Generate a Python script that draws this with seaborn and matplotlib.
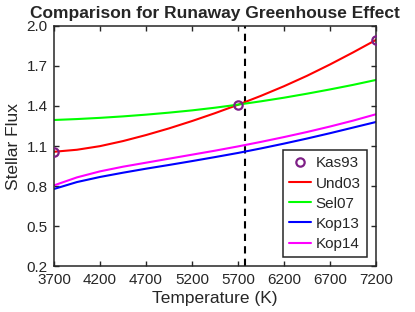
import numpy as np
import pandas as pd
import matplotlib
matplotlib.use('Agg')
import matplotlib.pyplot as plt
import seaborn as sns

# values (every 250 K)
temps = [3700, 3950, 4200, 4450, 4700, 4950, 5200, 5450, 5700,
         5950, 6200, 6450, 6700, 6950, 7200]
und03 = [1.057, 1.072, 1.099, 1.137, 1.182, 1.232, 1.287, 1.346, 1.409,
         1.476, 1.548, 1.626, 1.711, 1.801, 1.895]
sel07 = [1.295, 1.302, 1.311, 1.322, 1.335, 1.350, 1.367, 1.387, 1.410,
         1.435, 1.462, 1.492, 1.524, 1.558, 1.595]
kop13 = [0.778, 0.830, 0.868, 0.900, 0.930, 0.958, 0.987, 1.017, 1.048,
         1.082, 1.118, 1.156, 1.196, 1.238, 1.280]
kop14 = [0.805, 0.865, 0.910, 0.945, 0.975, 1.005, 1.035, 1.065, 1.097,
         1.131, 1.167, 1.205, 1.246, 1.290, 1.338]
kas93_t = [3700, 5700, 7200]
kas93_f = [1.057, 1.41, 1.895]
sun_temp = 5780

xticks = [3700, 4200, 4700, 5200, 5700, 6200, 6700, 7200]
yticks = [0.2, 0.5, 0.8, 1.1, 1.4, 1.7, 2.0]

sns.set_style('ticks')
plt.rcParams['font.family'] = ['Liberation Sans', 'DejaVu Sans']

fig = plt.figure(figsize=(4.15, 3.12), dpi=100)
ax = fig.add_axes([0.130, 0.147, 0.776, 0.770])

ax.axvline(sun_temp, color='black', linestyle=(0, (3.5, 2.5)), linewidth=1.5, zorder=1)

sns.lineplot(x=kas93_t, y=kas93_f, ax=ax, label='Kas93', linestyle='', marker='o',
             markersize=6, markerfacecolor='none', markeredgecolor='#7E1F86',
             markeredgewidth=1.6, zorder=5)
sns.lineplot(x=temps, y=und03, ax=ax, label='Und03', color='#FF0000', linewidth=1.5)
sns.lineplot(x=temps, y=sel07, ax=ax, label='Sel07', color='#00FF00', linewidth=1.5)
sns.lineplot(x=temps, y=kop13, ax=ax, label='Kop13', color='#0000FF', linewidth=1.5)
sns.lineplot(x=temps, y=kop14, ax=ax, label='Kop14', color='#FF00FF', linewidth=1.5)

ax.set_xlim(3700, 7200)
ax.set_ylim(0.2, 2.0)
ax.set_xticks(xticks)
ax.set_yticks(yticks)
ax.set_yticklabels([f'{v:.1f}' for v in yticks])
ax.tick_params(direction='in', top=True, right=True, length=3.5, width=1.0,
               color='#262626', labelsize=11, labelcolor='#262626')
ax.tick_params(axis='x', pad=5)
ax.tick_params(axis='y', pad=4.5)
for s in ax.spines.values():
    s.set_linewidth(1.1)
    s.set_color('#262626')

ax.set_title('Comparison for Runaway Greenhouse Effect', fontsize=12.5,
             fontweight='bold', pad=6)
ax.set_xlabel('Temperature (K)', fontsize=12.5, color='#262626', labelpad=3)
ax.set_ylabel('Stellar Flux', fontsize=12.5, color='#262626', labelpad=4)

leg = ax.legend(loc='lower right', fontsize=11, frameon=True, fancybox=False,
                framealpha=1, edgecolor='#262626', handlelength=1.45,
                handletextpad=0.3, labelspacing=0.4, borderpad=0.4,
                borderaxespad=0.6)
leg.get_frame().set_linewidth(1.1)

fig.savefig('out.png', dpi=100)
